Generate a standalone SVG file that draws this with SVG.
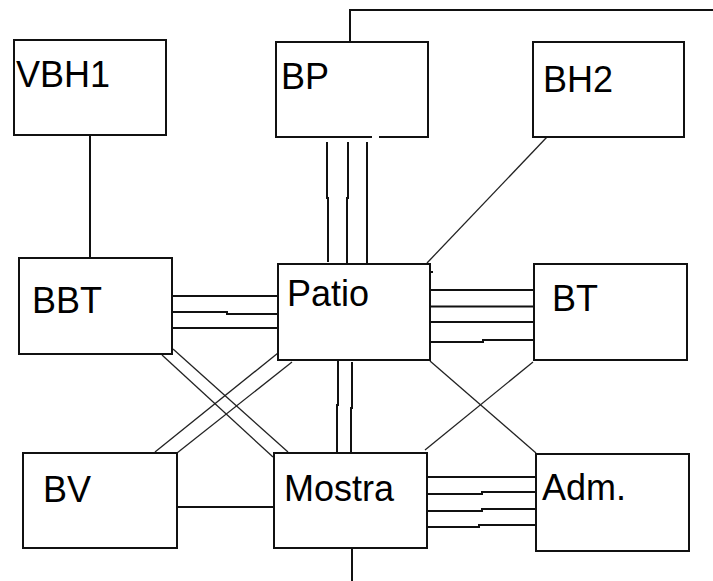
<svg xmlns="http://www.w3.org/2000/svg" width="713" height="581" viewBox="0 0 713 581">
<style>
.box{fill:#fff;stroke:#111;stroke-width:2}
.lbl{font-family:"Liberation Sans",Arial,sans-serif;font-size:36px;fill:#000}
.c{fill:none;stroke:#111;stroke-width:2}
.d{fill:none;stroke:#222;stroke-width:1.3}
</style>
<rect width="713" height="581" fill="#fff"/>
<g id="connectors">
<path class="c" d="M90,135V258"/>
<path class="c" d="M350,42V10H713"/>
<path class="d" d="M547,137L427,263"/>
<path class="c" d="M327,142V198H328V262"/>
<path class="c" d="M348,142V198H347V264"/>
<path class="c" d="M367,142V268"/>
<path class="c" d="M173,296H281"/>
<path class="c" d="M173,312H227V314H281"/>
<path class="c" d="M170,328H278"/>
<path class="c" d="M428,290H539"/>
<path class="c" d="M431,306.5H534"/>
<path class="c" d="M428,322H537"/>
<path class="c" d="M431,342H483V340H534"/>
<path class="c" d="M428,272H433"/>
<path class="d" d="M162,355L273,457"/>
<path class="d" d="M173,349L288,452"/>
<path class="d" d="M278,353L155,452"/>
<path class="d" d="M292,362L177,453"/>
<path class="c" d="M338,358V405H337V452"/>
<path class="c" d="M352,362V408H351V455"/>
<path class="d" d="M430,361L536,453"/>
<path class="d" d="M533,362L425,450"/>
<path class="c" d="M177,507H274"/>
<path class="c" d="M352,548V581"/>
<path class="c" d="M427,477H536"/>
<path class="c" d="M427,494H482V492H536"/>
<path class="c" d="M427,511H482V509H540"/>
<path class="c" d="M427,527H479V525H536"/>
</g>
<g id="VBH1"><rect class="box" x="14" y="40" width="152" height="95"/><text class="lbl" x="16" y="87">VBH1</text></g>
<g id="BP"><path class="box" d="M372,137H276V42H428V137H379"/><text class="lbl" x="281" y="89">BP</text></g>
<g id="BH2"><rect class="box" x="533" y="42" width="151" height="95"/><text class="lbl" x="543" y="92">BH2</text></g>
<g id="BBT"><rect class="box" x="19" y="258" width="153" height="96"/><text class="lbl" x="32" y="313">BBT</text></g>
<g id="Patio"><rect class="box" x="278" y="264" width="152" height="96"/><text class="lbl" x="287" y="306">Patio</text></g>
<g id="BT"><rect class="box" x="534" y="264" width="153" height="96"/><text class="lbl" x="552" y="311">BT</text></g>
<g id="BV"><rect class="box" x="23" y="453" width="154" height="95"/><text class="lbl" x="43" y="502">BV</text></g>
<g id="Mostra"><rect class="box" x="274" y="453" width="153" height="95"/><text class="lbl" x="284" y="501">Mostra</text></g>
<g id="Adm"><rect class="box" x="536" y="454" width="153" height="97"/><text class="lbl" x="542" y="500">Adm.</text></g>
</svg>
